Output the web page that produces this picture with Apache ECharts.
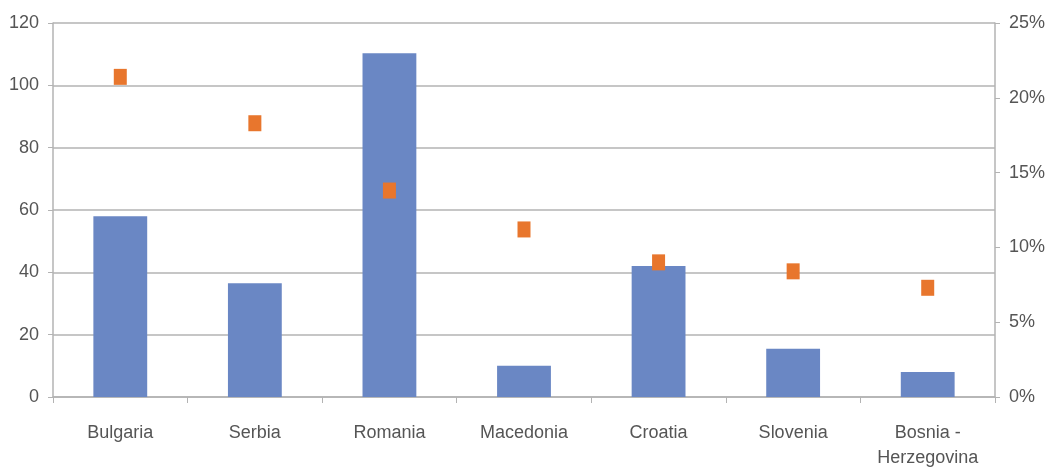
<!DOCTYPE html>
<html><head><meta charset="utf-8">
<script src="https://cdn.jsdelivr.net/npm/echarts@6/dist/echarts.min.js"></script>
<style>html,body{margin:0;padding:0;background:#fff}#c{width:1048px;height:467px}</style>
</head><body><div id="c"></div>
<script>
const categories = ["Bulgaria","Serbia","Romania","Macedonia","Croatia","Slovenia","Bosnia -\nHerzegovina"];
const barValues = [58, 36.5, 110.3, 10, 42, 15.5, 8];
const shareValues = [21.4, 18.3, 13.8, 11.2, 9.0, 8.4, 7.3];
const leftTicks = {min:0, max:120, interval:20};
const rightTicks = {min:0, max:25, interval:5};

const chart = echarts.init(document.getElementById('c'));
const txt = {color:'#555555', fontFamily:'Liberation Sans, Arial, sans-serif', fontSize:18};
const axisGrey = '#b3b3b3';
chart.setOption({
  animation:false,
  grid:{left:53, right:53, top:23, bottom:70, containLabel:false, outerBoundsMode:'none'},
  xAxis:{type:'category', data:categories,
    axisLine:{lineStyle:{color:axisGrey, width:1.5}},
    axisTick:{show:true, length:6, lineStyle:{color:axisGrey}},
    axisLabel:Object.assign({margin:24, lineHeight:25, interval:0}, txt)},
  yAxis:[
    {type:'value', min:leftTicks.min, max:leftTicks.max, interval:leftTicks.interval,
      axisLine:{show:true, lineStyle:{color:axisGrey, width:1.5}},
      axisTick:{show:true, length:5, lineStyle:{color:axisGrey}},
      splitLine:{lineStyle:{color:axisGrey, width:1.5}},
      axisLabel:Object.assign({margin:14}, txt)},
    {type:'value', min:rightTicks.min, max:rightTicks.max, interval:rightTicks.interval,
      axisLine:{show:true, lineStyle:{color:axisGrey, width:1.5}},
      axisTick:{show:true, length:5, lineStyle:{color:axisGrey}},
      splitLine:{show:false},
      axisLabel:Object.assign({margin:14, formatter:'{value}%'}, txt)}
  ],
  series:[
    {type:'bar', data:barValues, barWidth:'40%', itemStyle:{color:'#6a87c4'}, yAxisIndex:0},
    {type:'scatter', data:shareValues, yAxisIndex:1, symbol:'rect', symbolSize:[13,16],
      itemStyle:{color:'#e8762d', opacity:1}}
  ]
});
</script></body></html>
